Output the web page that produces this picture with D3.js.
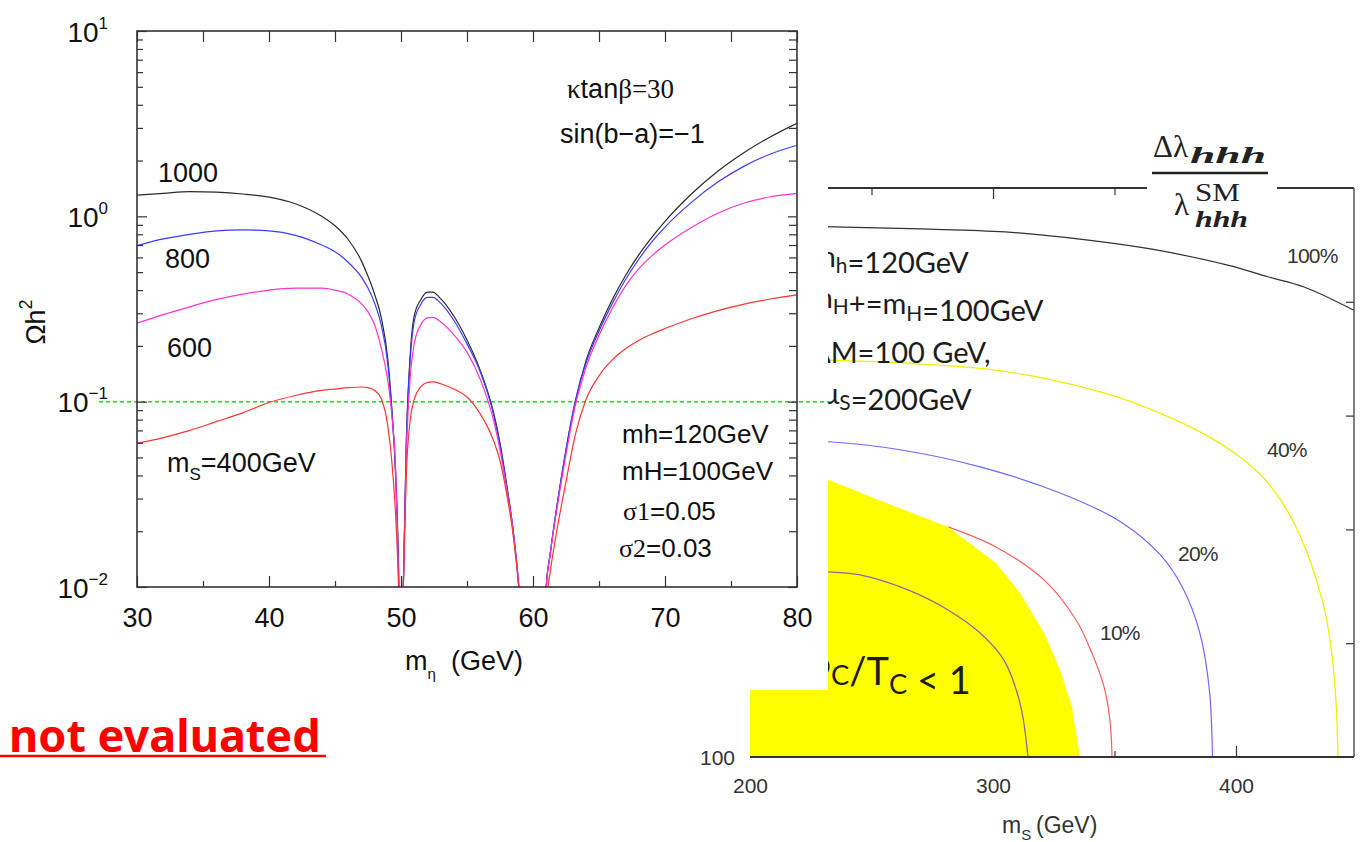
<!DOCTYPE html>
<html>
<head>
<meta charset="utf-8">
<script src="https://cdn.jsdelivr.net/npm/d3@7"></script>
<style>
  body { margin: 0; background: #fff; }
</style>
</head>
<body>
<script>
// ---- left chart: relic density vs m_eta ----
const mEta = [30,32,34,36,38,40,42,44,45,46,47,47.5,48,48.5,49,49.3,49.6,49.8,
  49.9,50,50.1,50.2,50.4,50.7,51,51.5,52,52.4,53,54,55,56,57,57.5,58,58.5,59,59.2,
  60,60.8,61,61.3,61.8,62.5,63.2,64,65,66,67,68,69,70,72,74,76,78,80];

const omega1000 = [1.30,1.33,1.36,1.35,1.32,1.27,1.17,1.0,0.89,0.75,0.575,0.475,0.38,0.285,0.17,0.093,0.040,0.014,
  0.006,0.003,0.006,0.012,0.06,0.18,0.29,0.355,0.39,0.39,0.36,0.29,0.215,0.148,0.088,0.06,0.036,0.02,0.0085,0.005,
  0.001,0.005,0.01,0.015,0.027,0.055,0.10,0.165,0.25,0.355,0.478,0.618,0.77,0.94,1.32,1.75,2.21,2.69,3.18];
const omega800 = [0.695,0.755,0.80,0.835,0.845,0.835,0.79,0.70,0.645,0.565,0.47,0.41,0.34,0.26,0.16,0.09,0.039,0.014,
  0.006,0.003,0.006,0.012,0.058,0.17,0.27,0.335,0.365,0.365,0.34,0.275,0.205,0.145,0.086,0.058,0.035,0.02,0.0085,0.005,
  0.001,0.005,0.01,0.015,0.027,0.055,0.10,0.16,0.24,0.338,0.455,0.585,0.727,0.875,1.19,1.53,1.866,2.17,2.42];
const omega600 = [0.265,0.295,0.325,0.355,0.38,0.40,0.41,0.41,0.40,0.38,0.338,0.305,0.26,0.195,0.13,0.085,0.042,0.012,
  0.006,0.003,0.006,0.012,0.05,0.135,0.205,0.26,0.283,0.285,0.27,0.23,0.185,0.132,0.08,0.055,0.034,0.02,0.0085,0.005,
  0.001,0.005,0.01,0.015,0.026,0.052,0.095,0.152,0.228,0.318,0.42,0.52,0.612,0.70,0.87,1.04,1.18,1.275,1.33];
const omega400 = [0.0596,0.064,0.070,0.078,0.087,0.099,0.108,0.115,0.117,0.119,0.12,0.119,0.115,0.104,0.074,0.048,0.024,0.011,
  0.006,0.003,0.006,0.012,0.04,0.08,0.103,0.12,0.127,0.128,0.125,0.117,0.106,0.086,0.062,0.048,0.032,0.019,0.0085,0.005,
  0.001,0.004,0.008,0.012,0.02,0.037,0.066,0.102,0.138,0.168,0.193,0.214,0.232,0.248,0.28,0.31,0.336,0.358,0.377];

const seriesColors = ['#2a2a2a', '#3b3bff', '#ff33cc', '#ff3333'];
const relicValue = 0.1;
const xTicksMajor = [30, 40, 50, 60, 70, 80];
const xTicksMinor = [35, 45, 55, 65, 75];
const yTicksMajor = [0.01, 0.1, 1, 10];
const yTicksMinor = [];
[0.01, 0.1, 1].forEach(d => { for (let k = 2; k <= 9; k++) yTicksMinor.push(d * k); });

// ---- right chart: triple higgs coupling contours ----
const ms100 = [200, 230, 270, 305, 340, 366, 397, 413, 428, 449];
const y100  = [334, 333, 332, 330.7, 327, 323, 316, 311, 306.5, 296];
const ms40 = [200, 232.5, 265, 297, 325, 351, 375, 390, 402, 411, 418, 424, 429, 433, 436.3, 439, 441, 442];
const y40  = [276, 274.4, 273, 270.5, 265.5, 258.2, 248.1, 240, 231.5, 223, 213.5, 202.5, 190.5, 178, 165.5, 149, 127, 100];
const ms20 = [200, 232.5, 261.7, 294.7, 327.6, 352.3, 368.7, 378, 385, 389, 390.3];
const y20  = [239.5, 238.5, 235, 227.5, 216, 203.5, 189, 174.5, 155, 130, 100];
const ms10 = [281.5, 301.2, 321, 334.2, 340.7, 345.7, 348.1, 349];
const y10  = [201.1, 192.3, 177.8, 160.2, 145.7, 130.8, 116.3, 100];
const ms5 = [200, 232.5, 245.3, 265, 281.5, 294.7, 304.5, 311.1, 314.4];
const y5  = [182, 181.3, 180, 173.4, 164.6, 154.5, 142.6, 123.7, 100];
const msFill = [200, 215, 232.5, 260, 281.5, 301.2, 311.1, 321, 327.6, 332.5, 335.8];
const yFill  = [234, 229, 221.7, 210, 201.1, 185.2, 172.1, 154.5, 138.2, 122, 100];
const contourLabels = ['100%', '40%', '20%', '10%'];

const sans = '"Liberation Sans", Arial, sans-serif';
const serif = '"Liberation Serif", "Times New Roman", serif';
const lato = 'Lato, "Open Sans", sans-serif';

const svg = d3.select('body').append('svg')
  .attr('width', 1362)
  .attr('height', 842)
  .attr('font-family', sans);

// ================= right chart (behind) =================
const xR = d3.scaleLinear().domain([200, 400]).range([750, 1236]);
const yR = d3.scaleLinear().domain([100, 350]).range([757, 188]);
const rEdge = 1354;

const right = svg.append('g');
right.append('clipPath').attr('id', 'clipR')
  .append('rect').attr('x', 750).attr('y', 188).attr('width', rEdge - 750).attr('height', 757 - 188);

function plainAxis(g, color) {
  g.select('.domain').remove();
  g.selectAll('line').attr('stroke', color || '#333').attr('stroke-width', 1.2);
  g.selectAll('text').remove();
}
// ticks (under the fill)
right.append('g').attr('transform', 'translate(0,188)')
  .call(d3.axisTop(xR).tickValues([300, 400]).tickSize(-11)).call(plainAxis);
right.append('g').attr('transform', 'translate(0,188)')
  .call(d3.axisTop(xR).tickValues([250, 350]).tickSize(-7)).call(plainAxis);
right.append('g').attr('transform', 'translate(0,757)')
  .call(d3.axisBottom(xR).tickValues([300, 400]).tickSize(-11)).call(plainAxis);
right.append('g').attr('transform', 'translate(0,757)')
  .call(d3.axisBottom(xR).tickValues([250, 350]).tickSize(-6)).call(plainAxis);
right.append('g').attr('transform', `translate(${rEdge},0)`)
  .call(d3.axisRight(yR).tickValues([150, 200, 250, 300]).tickSize(-8)).call(plainAxis);

const contourLine = d3.line()
  .x(d => xR(d[0])).y(d => yR(d[1]))
  .curve(d3.curveCatmullRom.alpha(0.5));

const contours = [
  { ms: ms100, y: y100, color: '#333', w: 1.2 },
  { ms: ms40, y: y40, color: '#f0f000', w: 1.3 },
  { ms: ms20, y: y20, color: '#6a6aff', w: 1.2 },
  { ms: ms10, y: y10, color: '#ff5c5c', w: 1.2 }
];
const cg = right.append('g').attr('clip-path', 'url(#clipR)');
cg.selectAll('path.contour')
  .data(contours)
  .enter()
  .append('path')
  .attr('class', 'contour')
  .attr('d', c => contourLine(c.ms.map((m, i) => [m, c.y[i]])))
  .attr('fill', 'none')
  .attr('stroke', c => c.color)
  .attr('stroke-width', c => c.w);

// phi_c/T_c < 1 region
const fillPts = msFill.map((m, i) => [m, yFill[i]]).concat([[200, 100]]);
cg.append('path')
  .attr('d', d3.line().x(d => xR(d[0])).y(d => yR(d[1])).curve(d3.curveLinearClosed)(fillPts))
  .attr('fill', '#ffff00');

cg.append('path')
  .attr('d', contourLine(ms5.map((m, i) => [m, y5[i]])))
  .attr('fill', 'none')
  .attr('stroke', '#8d6a9e')
  .attr('stroke-width', 1.3);

// frame
right.append('line').attr('x1', 750).attr('x2', rEdge).attr('y1', 757).attr('y2', 757)
  .attr('stroke', '#333').attr('stroke-width', 2.2);
right.append('line').attr('x1', 700).attr('x2', rEdge).attr('y1', 188).attr('y2', 188)
  .attr('stroke', '#333').attr('stroke-width', 2);
right.append('line').attr('x1', rEdge).attr('x2', rEdge).attr('y1', 188).attr('y2', 757)
  .attr('stroke', '#555').attr('stroke-width', 1.5);

// tick labels (only the ones not covered by the left chart)
const rxLab = right.append('g').attr('transform', 'translate(0,757)')
  .call(d3.axisBottom(xR).tickValues([200, 300, 400]).tickSize(0).tickFormat(d3.format('d')));
rxLab.attr('font-family', sans);
rxLab.select('.domain').remove();
rxLab.selectAll('text').attr('y', 36).attr('dy', 0)
  .attr('font-size', 21).attr('fill', '#333');
const ryLab = right.append('g').attr('transform', 'translate(750,0)')
  .call(d3.axisLeft(yR).tickValues([100]).tickSize(0).tickPadding(15));
ryLab.attr('font-family', sans);
ryLab.select('.domain').remove();
ryLab.selectAll('text').attr('font-size', 21).attr('fill', '#333').attr('dy', '0.35em');

const msTitle = right.append('text').attr('x', 1002).attr('y', 833)
  .attr('font-size', 23).attr('fill', '#333');
msTitle.append('tspan').text('m');
msTitle.append('tspan').attr('font-size', 15).attr('dy', 7).text('S');
msTitle.append('tspan').attr('x', 1036).attr('dy', -7).text('(GeV)');

// contour labels
const labelPos = [[1287, 263], [1267, 457], [1178, 561], [1100, 640]];
right.selectAll('text.clab')
  .data(contourLabels)
  .enter()
  .append('text')
  .attr('class', 'clab')
  .attr('x', (d, i) => labelPos[i][0])
  .attr('y', (d, i) => labelPos[i][1])
  .attr('font-size', 21)
  .attr('letter-spacing', -0.8)
  .attr('fill', '#333')
  .text(d => d);

// title fraction
right.append('rect').attr('x', 1147).attr('y', 120).attr('width', 130).attr('height', 80).attr('fill', '#fff');
const num = right.append('text').attr('x', 1153).attr('y', 157)
  .attr('font-family', serif).attr('font-size', 31).attr('fill', '#222');
num.append('tspan').text('Δλ');
num.append('tspan').attr('x', 1190).attr('y', 163).attr('font-size', 24)
  .attr('font-style', 'italic').attr('font-weight', 'bold')
  .attr('textLength', 76).attr('lengthAdjust', 'spacingAndGlyphs').text('hhh');
right.append('line').attr('x1', 1152).attr('x2', 1268).attr('y1', 173).attr('y2', 173)
  .attr('stroke', '#222').attr('stroke-width', 2.5);
const den = right.append('text').attr('x', 1174).attr('y', 215)
  .attr('font-family', serif).attr('font-size', 31).attr('fill', '#222');
den.append('tspan').text('λ');
den.append('tspan').attr('x', 1195).attr('y', 201).attr('font-size', 25)
  .attr('textLength', 45).attr('lengthAdjust', 'spacingAndGlyphs').text('SM');
den.append('tspan').attr('x', 1195).attr('y', 227).attr('font-size', 24)
  .attr('font-style', 'italic').attr('font-weight', 'bold')
  .attr('textLength', 53).attr('lengthAdjust', 'spacingAndGlyphs').text('hhh');

// parameter texts (partly hidden by the left chart)
function subText(x, y, size, parts) {
  const t = right.append('text').attr('x', x).attr('y', y)
    .attr('font-family', lato).attr('font-size', size).attr('fill', '#1c1c1c');
  parts.forEach(p => {
    if (p.sub) {
      t.append('tspan').attr('font-size', size * 0.72).attr('dy', size * 0.22).text(p.sub);
      t.append('tspan').attr('dy', -size * 0.22).text('');
    } else {
      t.append('tspan').text(p.t);
    }
  });
}
subText(812, 267, 29, [{ t: 'm' }, { sub: 'h' }, { t: '=120GeV' }]);
subText(809, 308, 29, [{ t: 'm' }, { sub: 'H' }, { t: '+=m' }, { sub: 'H' }, { t: '=100GeV' }]);
subText(811, 363, 29, [{ t: 'ΔM=100 GeV,' }]);
subText(822, 404, 29, [{ t: 'μ' }, { sub: 'S' }, { t: '=200GeV' }]);
subText(803, 677, 38, [{ t: 'φ' }, { sub: 'C' }, { t: '/T' }, { sub: 'C' }, { t: ' < 1' }]);

// ================= left chart (on top) =================
const x = d3.scaleLinear().domain([30, 80]).range([137, 797]);
const y = d3.scaleLog().domain([0.01, 10]).range([587, 31]);

const left = svg.append('g');
left.append('rect').attr('x', 0).attr('y', 0).attr('width', 828).attr('height', 690).attr('fill', '#fff');

left.append('clipPath').attr('id', 'clipL')
  .append('rect').attr('x', 137).attr('y', 31).attr('width', 660).attr('height', 556);

// relic density line
left.append('line')
  .attr('x1', 99).attr('x2', 829)
  .attr('y1', y(relicValue)).attr('y2', y(relicValue))
  .attr('stroke', '#00f000').attr('stroke-width', 1.5)
  .attr('stroke-dasharray', '4,3');

const series = [omega1000, omega800, omega600, omega400];
const curve = d3.line()
  .x((d, i) => x(mEta[i]))
  .y(d => y(d))
  .curve(d3.curveMonotoneX);

left.append('g').attr('clip-path', 'url(#clipL)')
  .selectAll('path')
  .data(series)
  .enter()
  .append('path')
  .attr('d', d => curve(d))
  .attr('fill', 'none')
  .attr('stroke', (d, i) => seriesColors[i])
  .attr('stroke-width', 1.2);

// frame + axes
left.append('rect').attr('x', 137).attr('y', 31).attr('width', 660).attr('height', 556)
  .attr('fill', 'none').attr('stroke', '#333').attr('stroke-width', 1.6);

left.append('g').attr('transform', 'translate(0,587)')
  .call(d3.axisBottom(x).tickValues(xTicksMinor).tickSize(-6)).call(plainAxis);
const xb = left.append('g').attr('transform', 'translate(0,587)')
  .call(d3.axisBottom(x).tickValues(xTicksMajor).tickSize(-11).tickFormat(d3.format('d')));
xb.attr('font-family', sans);
xb.select('.domain').remove();
xb.selectAll('line').attr('stroke', '#333').attr('stroke-width', 1.2);
xb.selectAll('text').attr('y', 40).attr('dy', 0).attr('font-size', 27).attr('fill', '#111');

left.append('g').attr('transform', 'translate(0,31)')
  .call(d3.axisTop(x).tickValues(xTicksMajor.concat(xTicksMinor)).tickSize(-11)).call(plainAxis);

left.append('g').attr('transform', 'translate(137,0)')
  .call(d3.axisLeft(y).tickValues(yTicksMinor).tickSize(-6)).call(plainAxis);
const yl = left.append('g').attr('transform', 'translate(137,0)')
  .call(d3.axisLeft(y).tickValues(yTicksMajor).tickSize(-10).tickPadding(29).tickFormat(() => '10'));
yl.attr('font-family', sans);
yl.select('.domain').remove();
yl.selectAll('line').attr('stroke', '#333').attr('stroke-width', 1.2);
yl.selectAll('text')
  .attr('font-size', 28).attr('fill', '#111').attr('dy', '0.36em')
  .each(function (d) {
    const e = Math.round(Math.log10(d));
    d3.select(this).append('tspan')
      .attr('font-size', 17).attr('dy', -13)
      .text(String(e).replace('-', '−'));
  });

left.append('g').attr('transform', 'translate(797,0)')
  .call(d3.axisRight(y).tickValues(yTicksMinor).tickSize(-8)).call(plainAxis);
left.append('g').attr('transform', 'translate(797,0)')
  .call(d3.axisRight(y).tickValues(yTicksMajor).tickSize(-9)).call(plainAxis);

// axis titles
const xt = left.append('text').attr('x', 405).attr('y', 670).attr('font-size', 27).attr('fill', '#111');
xt.append('tspan').text('m');
xt.append('tspan').attr('font-size', 15).attr('dy', 9).text('η');
xt.append('tspan').attr('x', 451).attr('dy', -9).text('(GeV)');

const yt = left.append('text')
  .attr('transform', 'translate(45,322) rotate(-90)')
  .attr('text-anchor', 'middle').attr('font-size', 27).attr('fill', '#111');
yt.append('tspan').text('Ωh');
yt.append('tspan').attr('font-size', 18).attr('dy', -13).text('2');

// curve labels
const seriesLabels = ['1000', '800', '600'];
const labelXY = [[158, 182], [165, 268], [167, 357]];
left.selectAll('text.slab')
  .data(seriesLabels)
  .enter()
  .append('text')
  .attr('class', 'slab')
  .attr('x', (d, i) => labelXY[i][0])
  .attr('y', (d, i) => labelXY[i][1])
  .attr('font-size', 27).attr('fill', '#111')
  .text(d => d);
const ms4 = left.append('text').attr('x', 167).attr('y', 472).attr('font-size', 27).attr('fill', '#111');
ms4.append('tspan').text('m');
ms4.append('tspan').attr('font-size', 17).attr('dy', 8).text('S');
ms4.append('tspan').attr('dy', -8).text('=400GeV');

// parameters
const kt = left.append('text').attr('x', 567).attr('y', 98).attr('font-size', 27).attr('fill', '#111');
kt.append('tspan').attr('font-family', serif).text('κ');
kt.append('tspan').text('tan');
kt.append('tspan').attr('font-family', serif).text('β=30');
left.append('text').attr('x', 560).attr('y', 143).attr('font-size', 27).attr('fill', '#111')
  .text('sin(b−a)=−1');
left.append('text').attr('x', 622).attr('y', 443).attr('font-size', 26).attr('fill', '#111').text('mh=120GeV');
left.append('text').attr('x', 622).attr('y', 480).attr('font-size', 26).attr('fill', '#111').text('mH=100GeV');
const s1 = left.append('text').attr('x', 623).attr('y', 520).attr('font-size', 26).attr('fill', '#111');
s1.append('tspan').attr('font-family', serif).text('σ1');
s1.append('tspan').text('=0.05');
const s2 = left.append('text').attr('x', 619).attr('y', 557).attr('font-size', 26).attr('fill', '#111');
s2.append('tspan').attr('font-family', serif).text('σ2');
s2.append('tspan').text('=0.03');

// ================= note =================
svg.append('text').attr('x', 9).attr('y', 752)
  .attr('font-family', '"Noto Sans", sans-serif')
  .attr('font-weight', 'bold').attr('font-size', 45).attr('fill', '#ff0000')
  .text('not evaluated');
svg.append('line').attr('x1', 0).attr('x2', 326).attr('y1', 756).attr('y2', 756)
  .attr('stroke', '#ff0000').attr('stroke-width', 2.5);
</script>
</body>
</html>
